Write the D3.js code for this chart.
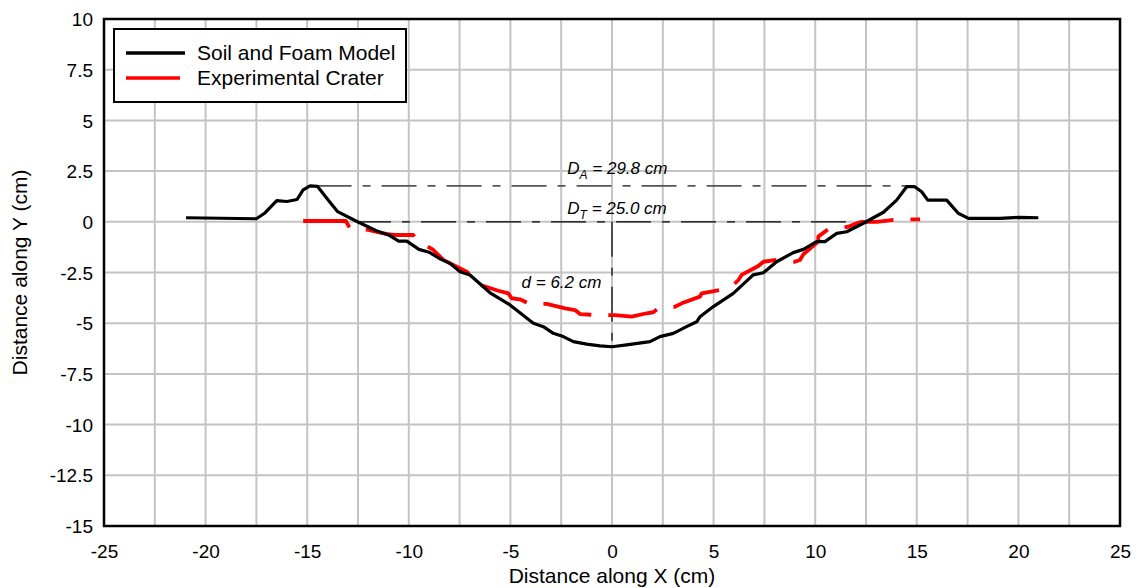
<!DOCTYPE html>
<html>
<head>
<meta charset="utf-8">
<script src="https://cdn.jsdelivr.net/npm/d3@7"></script>
<style>
  html, body { margin: 0; padding: 0; background: #fff; }
  text { font-family: "Liberation Sans", Arial, sans-serif; }
</style>
</head>
<body>
<svg id="chart" width="1142" height="588"></svg>
<script>
// ---- Data ----
const modelX = [-20.96,-17.5,-17.1,-16.5,-16.0,-15.5,-15.2,-14.86,-14.5,-13.9,-13.5,-12.6,-11.6,-11.0,-10.5,-10.1,-9.5,-9.0,-8.46,-7.97,-7.48,-6.99,-6.0,-5.02,-3.87,-3.38,-2.89,-2.4,-1.9,-1.25,-0.59,0,0.72,1.87,2.36,3.02,3.67,4.17,4.33,4.99,5.97,6.95,7.45,8.1,8.92,9.42,10.07,10.48,11.06,11.55,12.37,13.36,14.01,14.5,14.9,15.24,15.54,16.47,17.04,17.54,19.09,20.08,20.98];
const modelY = [0.2,0.15,0.42,1.04,1.0,1.1,1.57,1.77,1.75,0.99,0.5,0.04,-0.44,-0.65,-0.95,-0.95,-1.36,-1.5,-1.83,-2.05,-2.46,-2.62,-3.5,-4.1,-5.0,-5.17,-5.5,-5.66,-5.91,-6.03,-6.12,-6.16,-6.07,-5.91,-5.66,-5.5,-5.17,-4.93,-4.68,-4.18,-3.53,-2.62,-2.51,-1.97,-1.52,-1.36,-0.98,-0.98,-0.57,-0.49,-0.07,0.47,1.07,1.73,1.73,1.48,1.07,1.07,0.42,0.17,0.17,0.22,0.2];

const expX = [-15.2,-13.1,-12.9,-11.99,-11.4,-11.09,-10.76,-9.78,-9.61,-8.79,-8.3,-7.81,-7.15,-6.83,-6.5,-5.59,-5.1,-4.94,-4.53,-4.04,-3.21,-2.31,-1.82,-1.57,-0.75,0.15,0.97,1.71,2.03,2.28,3.1,3.43,4.33,4.41,4.82,5.31,5.56,5.97,6.22,6.38,7.2,7.45,8.1,9.0,9.25,9.42,10.15,10.15,10.65,11.22,11.63,12.04,12.29,13.03,13.85,14.5,15.16];
const expY = [0.04,0.04,-0.32,-0.4,-0.54,-0.6,-0.65,-0.65,-0.9,-1.39,-1.88,-2.13,-2.46,-2.71,-3.11,-3.4,-3.53,-3.77,-3.82,-4.05,-4.05,-4.27,-4.35,-4.55,-4.6,-4.6,-4.68,-4.51,-4.46,-4.27,-4.19,-4.02,-3.69,-3.53,-3.45,-3.36,-3.25,-3.12,-2.87,-2.62,-2.18,-1.97,-1.88,-1.97,-1.88,-1.6,-0.98,-0.73,-0.36,-0.32,-0.24,-0.07,0.0,0.0,0.09,0.12,0.12];

const seriesNames = ["Soil and Foam Model", "Experimental Crater"];
const xTicks = [-25,-20,-15,-10,-5,0,5,10,15,20,25];
const yTicks = [10,7.5,5,2.5,0,-2.5,-5,-7.5,-10,-12.5,-15];
const gridX = [-22.5,-20,-17.5,-15,-12.5,-10,-7.5,-5,-2.5,0,2.5,5,7.5,10,12.5,15,17.5,20,22.5];
const gridY = [7.5,5,2.5,0,-2.5,-5,-7.5,-10,-12.5];

// annotation lines: [x1, x2, y]
const lineDA = [-14.54, 14.5, 1.77];
const lineDT = [-12.6, 12.4, 0];
const lineDepth = [0, 0, -6.16]; // x, y-top, y-bottom

// ---- Drawing ----
const svg = d3.select("#chart");
const x = d3.scaleLinear().domain([-25, 25]).range([104, 1120]);
const y = d3.scaleLinear().domain([-15, 10]).range([526, 19]);
const fmt = d => String(d);

// grid
svg.append("g").selectAll("line").data(gridX).join("line")
  .attr("x1", d => x(d)).attr("x2", d => x(d))
  .attr("y1", y(10)).attr("y2", y(-15))
  .attr("stroke", "#c4c4c4").attr("stroke-width", 2);
svg.append("g").selectAll("line").data(gridY).join("line")
  .attr("x1", x(-25)).attr("x2", x(25))
  .attr("y1", d => y(d)).attr("y2", d => y(d))
  .attr("stroke", "#c4c4c4").attr("stroke-width", 2);

// axes (labels only)
const xAxis = d3.axisBottom(x).tickValues(xTicks).tickSize(0).tickPadding(0).tickFormat(fmt);
const gx = svg.append("g").attr("transform", `translate(0,${y(-15)})`).call(xAxis);
gx.select(".domain").remove();
gx.selectAll("text").attr("font-size", 19).attr("fill", "#000").attr("dy", "0").attr("y", 32)
  .style("font-family", "'Liberation Sans', Arial, sans-serif");

const yAxis = d3.axisLeft(y).tickValues(yTicks).tickSize(0).tickPadding(0).tickFormat(fmt);
const gy = svg.append("g").attr("transform", `translate(${x(-25)},0)`).call(yAxis);
gy.select(".domain").remove();
gy.selectAll("text").attr("font-size", 19).attr("fill", "#000").attr("x", -11).attr("dy", "0.35em")
  .style("font-family", "'Liberation Sans', Arial, sans-serif");

// axis titles
svg.append("text").attr("x", 612).attr("y", 583).attr("text-anchor", "middle")
  .attr("font-size", 21).text("Distance along X (cm)");
svg.append("text").attr("transform", `translate(27,${(y(10)+y(-15))/2}) rotate(-90)`)
  .attr("text-anchor", "middle").attr("font-size", 21).text("Distance along Y (cm)");

// annotation lines
const dashDot = "35,11,8,11";
svg.append("line")
  .attr("x1", x(lineDA[0])).attr("x2", x(lineDA[1])).attr("y1", y(lineDA[2])).attr("y2", y(lineDA[2]))
  .attr("stroke", "#555").attr("stroke-width", 1.6).attr("stroke-dasharray", dashDot);
svg.append("line")
  .attr("x1", x(lineDT[0])).attr("x2", x(lineDT[1])).attr("y1", y(lineDT[2])).attr("y2", y(lineDT[2]))
  .attr("stroke", "#000").attr("stroke-width", 1.2).attr("stroke-dasharray", dashDot);
svg.append("line")
  .attr("x1", x(lineDepth[0])).attr("x2", x(lineDepth[0])).attr("y1", y(lineDepth[1])).attr("y2", y(lineDepth[2]))
  .attr("stroke", "#000").attr("stroke-width", 1.2).attr("stroke-dasharray", dashDot);

// annotation texts
function annot(xv, yv, main, sub, rest) {
  const t = svg.append("text").attr("x", x(xv)).attr("y", y(yv))
    .attr("font-size", 17).attr("font-style", "italic");
  t.append("tspan").text(main);
  if (sub) t.append("tspan").attr("font-size", 12).attr("dy", 5).text(sub);
  t.append("tspan").attr("dy", sub ? -5 : 0).text(rest);
}
annot(-2.2, 2.38, "D", "A", " = 29.8 cm");
annot(-2.2, 0.4, "D", "T", " = 25.0 cm");
annot(-4.45, -3.25, "d", null, " = 6.2 cm");

// curves
const line = d3.line().x(d => x(d[0])).y(d => y(d[1]));
const modelData = modelX.map((v, i) => [v, modelY[i]]);
const expData = expX.map((v, i) => [v, expY[i]]);

svg.append("path").datum(expData).attr("d", line)
  .attr("fill", "none").attr("stroke", "#ff0000").attr("stroke-width", 3.8)
  .attr("stroke-dasharray", "50,17").attr("stroke-linejoin", "round");
svg.append("path").datum(modelData).attr("d", line)
  .attr("fill", "none").attr("stroke", "#000").attr("stroke-width", 3.2)
  .attr("stroke-linejoin", "round");

// frame
svg.append("rect").attr("x", x(-25)).attr("y", y(10))
  .attr("width", x(25) - x(-25)).attr("height", y(-15) - y(10))
  .attr("fill", "none").attr("stroke", "#000").attr("stroke-width", 2.5);

// legend
const lg = svg.append("g");
lg.append("rect").attr("x", 114).attr("y", 29).attr("width", 292).attr("height", 73)
  .attr("fill", "#fff").attr("stroke", "#000").attr("stroke-width", 2);
const legColors = ["#000", "#ff0000"];
seriesNames.forEach((name, i) => {
  const yy = 53 + i * 25;
  lg.append("line").attr("x1", 126).attr("x2", i === 0 ? 185 : 180).attr("y1", yy).attr("y2", yy)
    .attr("stroke", legColors[i]).attr("stroke-width", 3.5);
  lg.append("text").attr("x", 197).attr("y", yy).attr("dy", "0.35em")
    .attr("font-size", 21).text(name);
});
</script>
</body>
</html>
